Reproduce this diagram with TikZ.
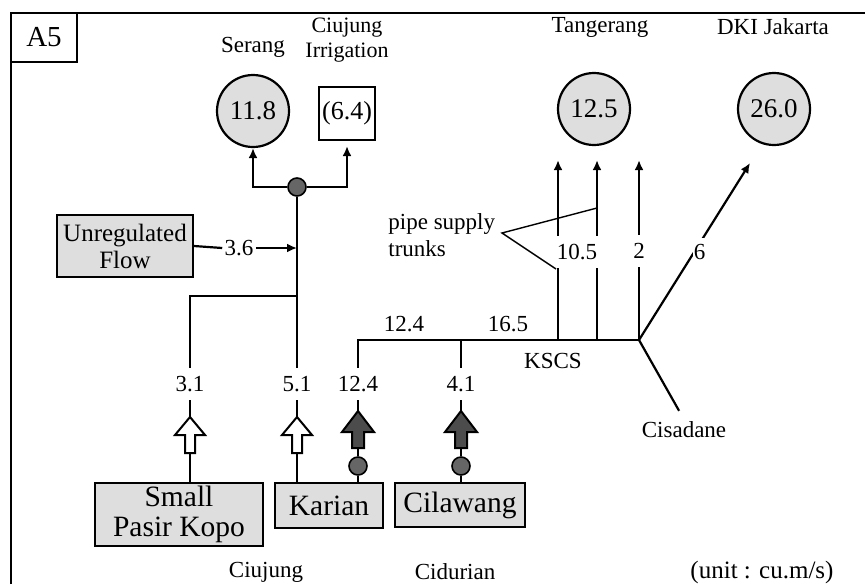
\documentclass[tikz,border=0pt]{standalone}
\usepackage{fontspec}
\setmainfont{Liberation Serif}
\usetikzlibrary{arrows.meta,calc}
\begin{document}
\begin{tikzpicture}[x=0.5pt,y=-0.5pt,
  ln/.style={line width=1.1pt},
  arr/.style={ln,-{Latex[length=5pt,width=4.5pt]}},
  lab/.style={font=\fontsize{11.5}{13}\selectfont, inner sep=1pt},
  vl/.style={lab, inner xsep=1pt, inner ysep=4pt},
  dem/.style={circle, draw, line width=1.1pt, fill=black!13, minimum size=36pt, inner sep=0pt, font=\fontsize{13.5}{13.5}\selectfont},
  src/.style={draw, line width=1pt, fill=black!13, inner sep=1pt, align=center, font=\fontsize{14.75}{15}\selectfont},
  dot/.style={circle, draw, line width=0.8pt, fill=black!60, minimum size=9pt, inner sep=0pt},
  hollowup/.pic={\draw[line width=1pt, fill=white] (0,0) -- (15,18) -- (5,18) -- (5,36) -- (-5,36) -- (-5,18) -- (-15,18) -- cycle;},
  darkup/.pic={\draw[line width=1pt, fill=black!70] (0,0) -- (16,21) -- (6,21) -- (6,37) -- (-6,37) -- (-6,21) -- (-16,21) -- cycle;},
]
\useasboundingbox (0,0) rectangle (865,584);
% frame
\draw[line width=0.8pt] (11,584) -- (11,13) -- (865,13);
\node[draw, line width=0.8pt, minimum width=33pt, minimum height=24.5pt, inner sep=0pt, font=\fontsize{14.5}{15}\selectfont] (a5) at (44,37.5) {A5};

% demand nodes
\node[dem] (serang) at (253,111) {11.8};
\node[lab] (tserang) at (253,47) {Serang};
\node[draw, line width=1.1pt, minimum width=28pt, minimum height=26.5pt, inner sep=0pt, font=\fontsize{13}{13}\selectfont] (irr) at (347,113.5) {(6.4)};
\node[lab, align=center, font=\fontsize{11}{12.5}\selectfont] (tirr) at (347,40) {Ciujung\\Irrigation};
\node[dem] (tang) at (594,109) {12.5};
\node[lab] (ttang) at (600,27) {Tangerang};
\node[dem] (dki) at (774,109) {26.0};
\node[lab] (tdki) at (773,27) {DKI Jakarta};

% Ciujung side
\node[dot] (j1) at (297,187) {};
\draw[arr] (j1.west) -| (serang.south);
\draw[arr, shorten >=2.5pt] (j1.east) -| (irr.south);
\node[src, minimum width=68pt, minimum height=31pt, font=\fontsize{12.5}{13.5}\selectfont] (unreg) at (125,246) {Unregulated\\Flow};
\node[lab] (l36) at (239,248) {3.6};
\draw[ln] (unreg.east) -- (l36.west);
\coordinate (t1) at (297,296);
\draw[arr] (l36.east) -- (l36.east -| t1);

\node[vl] (l31) at (190,384) {3.1};
\node[vl] (l51) at (297,384) {5.1};
\node[vl] (l124b) at (358,384) {12.4};
\node[vl] (l41) at (461,384) {4.1};
\draw[ln] (j1.south) -- (l51.north);
\draw[ln] (l31.north) |- (t1);

% sources
\node[src, minimum width=84pt, minimum height=31.5pt] (spk) at (179,514.5) {Small\\Pasir Kopo};
\node[src, minimum width=54pt, minimum height=22.5pt] (kar) at (329,505.5) {Karian};
\node[src, minimum width=65pt, minimum height=22pt] (cil) at (460,505) {Cilawang};

% block arrows
\coordinate (h1t) at (190,417); \coordinate (h1b) at (190,453);
\coordinate (h2t) at (297,417); \coordinate (h2b) at (297,453);
\coordinate (d1t) at (358,411); \coordinate (d1b) at (358,448);
\coordinate (d2t) at (461,411); \coordinate (d2b) at (461,448);
\pic at (h1t) {hollowup};
\pic at (h2t) {hollowup};
\pic at (d1t) {darkup};
\pic at (d2t) {darkup};
\draw[ln] (l31.south) -- (h1t);
\draw[ln] (l51.south) -- (h2t);
\draw[ln] (l124b.south) -- (d1t);
\draw[ln] (l41.south) -- (d2t);
\draw[ln] (h1b) -- (h1b |- spk.north);
\draw[ln] (h2b) -- (h2b |- kar.north);
\node[dot] (g1) at (358,466) {};
\node[dot] (g2) at (461,466) {};
\draw[ln] (d1b) -- (g1.north);
\draw[ln] (d2b) -- (g2.north);
\draw[ln] (g1.south) -- (g1.south |- kar.north);
\draw[ln] (g2.south) -- (g2.south |- cil.north);

% KSCS
\coordinate (ks) at (639,340);
\draw[ln] (l124b.north) |- (ks);
\draw[ln] (l41.north) -- (l41.north |- ks);
\node[lab] (l124) at (404,324) {12.4};
\node[lab] (l165) at (508,324) {16.5};
\node[lab] (kscs) at (553,361) {KSCS};

% pipes to Tangerang
\coordinate (p1) at (558,340);
\coordinate (p2) at (597,340);
\node[vl] (l105) at (577,252) {10.5};
\node[vl] (l2) at (639,251) {2};
\draw[ln] (p1) -- (p1 |- l105.south);
\draw[arr, shorten >=7pt] (p1 |- l105.north) -- (p1 |- tang.south);
\draw[ln] (p2) -- (p2 |- l105.south);
\draw[arr, shorten >=7pt] (p2 |- l105.north) -- (p2 |- tang.south);
\draw[ln] (ks) -- (l2.south);
\draw[arr, shorten >=7pt] (l2.north) -- (ks |- tang.south);

% DKI and Cisadane
\coordinate (dkitip) at (750,163);
\draw[arr] (ks) -- node[lab, pos=0.5, fill=white, inner xsep=0.5pt, inner ysep=3pt, xshift=2.5pt] (l6) {6} (dkitip);
\node[lab] (cis) at (684,430) {Cisadane};
\draw[ln, shorten >=5pt] (ks) -- (cis.north);

% pipe supply trunks
\node[lab, align=left, anchor=west, font=\fontsize{11.5}{13.5}\selectfont] (pst) at (386,235) {pipe supply\\trunks};
\coordinate (pv) at (502,233);
\coordinate (pe1) at (597,208);
\coordinate (pe2) at (556,269);
\draw[line width=0.7pt] (pe1) -- (pv) -- (pe2);

% bottom labels
\node[lab] (bciu) at (266,572) {Ciujung};
\node[lab] (bcid) at (455,572) {Cidurian};
\node[lab, font=\fontsize{12.5}{13}\selectfont] (unit) at (762,572) {(unit : cu.m/s)};
\end{tikzpicture}
\end{document}
